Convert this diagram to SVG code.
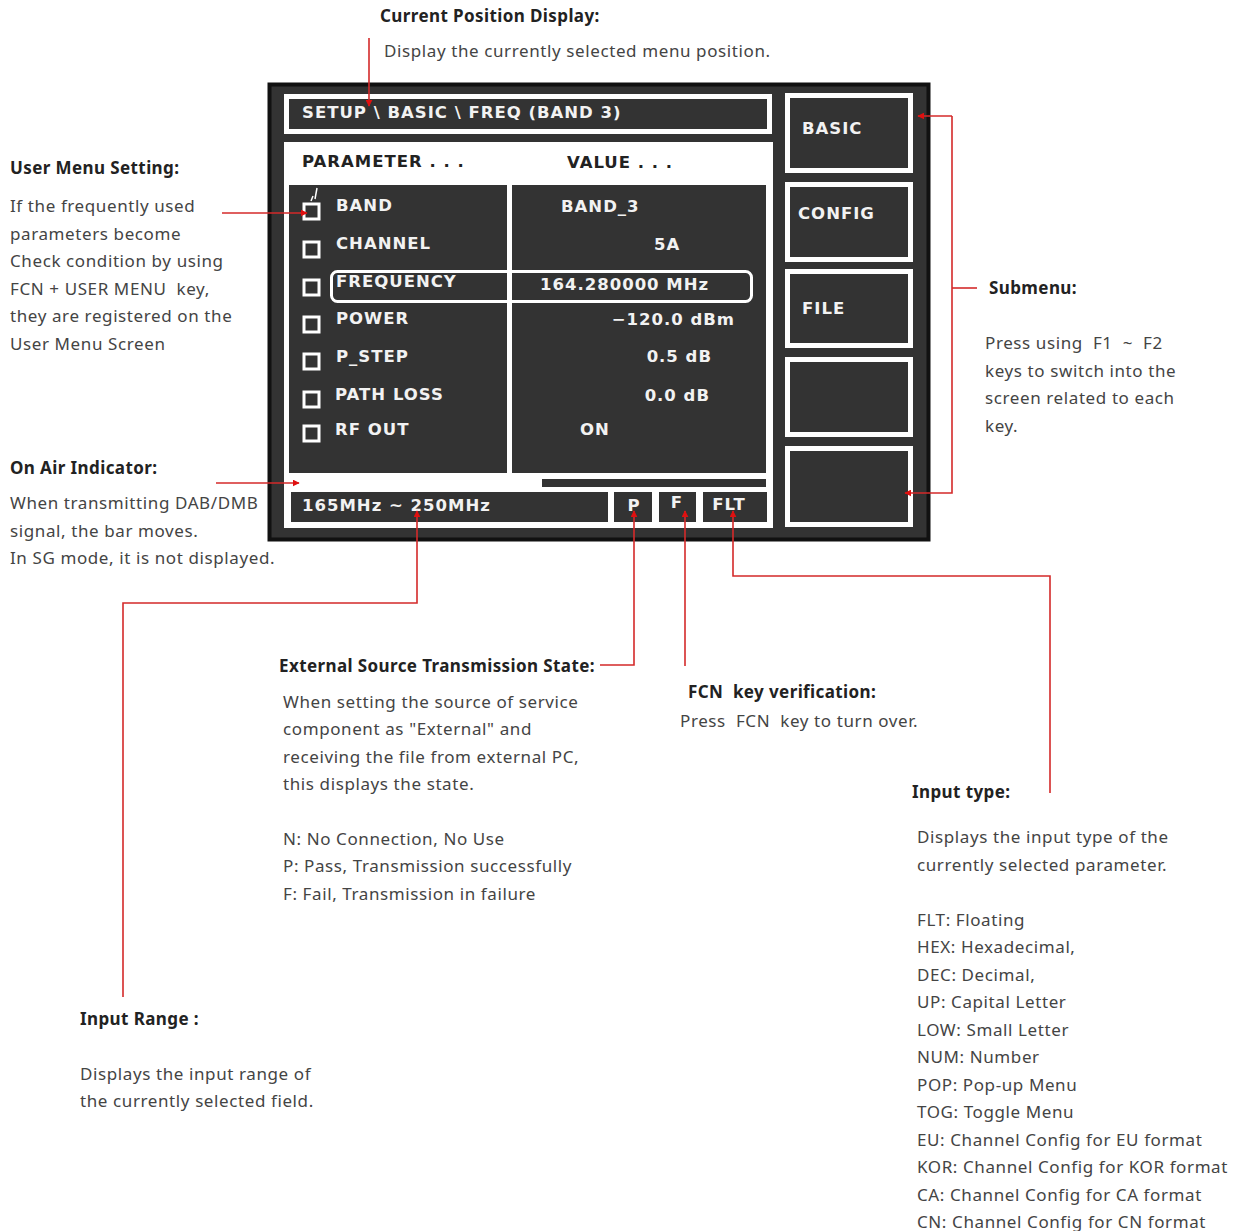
<svg xmlns="http://www.w3.org/2000/svg" width="1248" height="1231" viewBox="0 0 1248 1231">
<style>
.h{font-family:"Noto Sans","Open Sans",sans-serif;font-size:17px;font-weight:bold;fill:#222;letter-spacing:0.4px;white-space:pre}
.b{font-family:"Noto Sans","Open Sans",sans-serif;font-size:17px;fill:#444;letter-spacing:0.6px;white-space:pre}
.s{font-family:"DejaVu Sans","Liberation Sans",sans-serif;font-size:16.5px;font-weight:bold;fill:#f2f2f2;letter-spacing:1px}
.sd{font-family:"DejaVu Sans","Liberation Sans",sans-serif;font-size:16.5px;font-weight:bold;fill:#222;letter-spacing:1px}
.dk{fill:#333}
.btn{fill:#333;stroke:#fff;stroke-width:5}
.cb{fill:none;stroke:#fff;stroke-width:3}
.red{fill:none;stroke:#d42a2a;stroke-width:1.6}
</style>
<defs>
<marker id="ar" viewBox="0 0 10 10" refX="9" refY="5" markerWidth="7" markerHeight="7" orient="auto" markerUnits="userSpaceOnUse">
<path d="M0,0 L10,5 L0,10 Z" fill="#e01010"/>
</marker>
</defs>
<rect width="1248" height="1231" fill="#fff"/>

<g id="screen">
<rect x="269.5" y="84.5" width="659" height="455" fill="#333" stroke="#111" stroke-width="4"/>
<rect x="286.5" y="96.5" width="483" height="35" class="btn"/>
<text x="302" y="118" class="s">SETUP \ BASIC \ FREQ (BAND 3)</text>
<rect x="284" y="142" width="489" height="386" fill="#fff"/>
<text x="302" y="167" class="sd">PARAMETER . . .</text>
<text x="567" y="168" class="sd">VALUE  . . .</text>
<rect x="289" y="185" width="218" height="288" class="dk"/>
<rect x="512" y="185" width="254" height="288" class="dk"/>
<rect x="542" y="479" width="224" height="8" class="dk"/>
<rect x="291" y="492" width="317" height="30" class="dk"/>
<rect x="614" y="492" width="38" height="30" class="dk"/>
<rect x="659" y="492" width="37" height="30" class="dk"/>
<rect x="703" y="492" width="64" height="30" class="dk"/>
<text x="302" y="511" class="s">165MHz ~ 250MHz</text>
<text x="634" y="511" class="s" text-anchor="middle">P</text>
<text x="677" y="508" class="s" text-anchor="middle">F</text>
<text x="729" y="510" class="s" text-anchor="middle" letter-spacing="0">FLT</text>
</g>

<g id="params">
<rect x="304" y="204" width="15" height="15" class="cb"/>
<path d="M311,201 L313,196 M315,199 L317,188" stroke="#fff" stroke-width="1.5" fill="none"/>
<rect x="304" y="242" width="15" height="15" class="cb"/>
<rect x="304" y="280" width="15" height="15" class="cb"/>
<rect x="304" y="317" width="15" height="15" class="cb"/>
<rect x="304" y="354" width="15" height="15" class="cb"/>
<rect x="304" y="392" width="15" height="15" class="cb"/>
<rect x="304" y="426" width="15" height="15" class="cb"/>
<text x="336" y="211" class="s">BAND</text>
<text x="336" y="249" class="s">CHANNEL</text>
<text x="336" y="287" class="s">FREQUENCY</text>
<text x="336" y="324" class="s">POWER</text>
<text x="336" y="362" class="s">P_STEP</text>
<text x="335" y="400" class="s">PATH LOSS</text>
<text x="335" y="435" class="s">RF OUT</text>
<text x="561" y="212" class="s">BAND_3</text>
<text x="654" y="250" class="s">5A</text>
<text x="540" y="290" class="s">164.280000 MHz</text>
<text x="735" y="325" class="s" text-anchor="end">−120.0 dBm</text>
<text x="712" y="362" class="s" text-anchor="end">0.5 dB</text>
<text x="710" y="401" class="s" text-anchor="end">0.0 dB</text>
<text x="580" y="435" class="s">ON</text>
<rect x="331.5" y="271.5" width="420" height="30" rx="6" fill="none" stroke="#fff" stroke-width="3"/>
</g>

<g id="submenu-keys">
<rect x="787.5" y="95.5" width="123" height="75" class="btn"/>
<rect x="787.5" y="184.5" width="123" height="75" class="btn"/>
<rect x="787.5" y="271.5" width="123" height="74" class="btn"/>
<rect x="787.5" y="359.5" width="123" height="75" class="btn"/>
<rect x="787.5" y="448.5" width="123" height="76" class="btn"/>
<text x="802" y="134" class="s">BASIC</text>
<text x="798" y="219" class="s">CONFIG</text>
<text x="802" y="314" class="s">FILE</text>
</g>

<g id="connectors">
<path d="M369,38 V106" class="red" marker-end="url(#ar)"/>
<path d="M222,213 H307" class="red" marker-end="url(#ar)"/>
<path d="M216,483 H299" class="red" marker-end="url(#ar)"/>
<path d="M952,116 H918" class="red" marker-end="url(#ar)"/>
<path d="M952,116 V493 H905" class="red" marker-end="url(#ar)"/>
<path d="M952,288 H977" class="red"/>
<path d="M123,997 V603 H417 V511" class="red" marker-end="url(#ar)"/>
<path d="M600,665 H634 V511" class="red" marker-end="url(#ar)"/>
<path d="M685,666 V511" class="red" marker-end="url(#ar)"/>
<path d="M1050,793 V576 H733 V511" class="red" marker-end="url(#ar)"/>
</g>

<g id="current-position">
<text x="380" y="22" class="h">Current Position Display:</text>
<text x="384" y="57" class="b">Display the currently selected menu position.</text>
</g>

<g id="user-menu">
<text x="10" y="174" class="h">User Menu Setting:</text>
<text class="b"><tspan x="10" y="212">If the frequently used</tspan><tspan x="10" y="240">parameters become</tspan><tspan x="10" y="267">Check condition by using</tspan><tspan x="10" y="295">FCN + USER MENU  key,</tspan><tspan x="10" y="322">they are registered on the</tspan><tspan x="10" y="350">User Menu Screen</tspan></text>
</g>

<g id="on-air">
<text x="10" y="474" class="h">On Air Indicator:</text>
<text class="b"><tspan x="10" y="509">When transmitting DAB/DMB</tspan><tspan x="10" y="537">signal, the bar moves.</tspan><tspan x="10" y="564">In SG mode, it is not displayed.</tspan></text>
</g>

<g id="submenu">
<text x="989" y="294" class="h">Submenu:</text>
<text class="b"><tspan x="985" y="349">Press using  F1  ~  F2</tspan><tspan x="985" y="377">keys to switch into the</tspan><tspan x="985" y="404">screen related to each</tspan><tspan x="985" y="432">key.</tspan></text>
</g>

<g id="external-source">
<text x="279" y="672" class="h">External Source Transmission State:</text>
<text class="b"><tspan x="283" y="708">When setting the source of service</tspan><tspan x="283" y="735">component as "External" and</tspan><tspan x="283" y="763">receiving the file from external PC,</tspan><tspan x="283" y="790">this displays the state.</tspan><tspan x="283" y="845">N: No Connection, No Use</tspan><tspan x="283" y="872">P: Pass, Transmission successfully</tspan><tspan x="283" y="900">F: Fail, Transmission in failure</tspan></text>
</g>

<g id="fcn">
<text x="688" y="698" class="h">FCN  key verification:</text>
<text x="680" y="727" class="b">Press  FCN  key to turn over.</text>
</g>

<g id="input-type">
<text x="912" y="798" class="h">Input type:</text>
<text class="b"><tspan x="917" y="843">Displays the input type of the</tspan><tspan x="917" y="871">currently selected parameter.</tspan><tspan x="917" y="926">FLT: Floating</tspan><tspan x="917" y="953">HEX: Hexadecimal,</tspan><tspan x="917" y="981">DEC: Decimal,</tspan><tspan x="917" y="1008">UP: Capital Letter</tspan><tspan x="917" y="1036">LOW: Small Letter</tspan><tspan x="917" y="1063">NUM: Number</tspan><tspan x="917" y="1091">POP: Pop-up Menu</tspan><tspan x="917" y="1118">TOG: Toggle Menu</tspan><tspan x="917" y="1146">EU: Channel Config for EU format</tspan><tspan x="917" y="1173">KOR: Channel Config for KOR format</tspan><tspan x="917" y="1201">CA: Channel Config for CA format</tspan><tspan x="917" y="1228">CN: Channel Config for CN format</tspan></text>
</g>

<g id="input-range">
<text x="80" y="1025" class="h">Input Range :</text>
<text class="b"><tspan x="80" y="1080">Displays the input range of</tspan><tspan x="80" y="1107">the currently selected field.</tspan></text>
</g>
</svg>
